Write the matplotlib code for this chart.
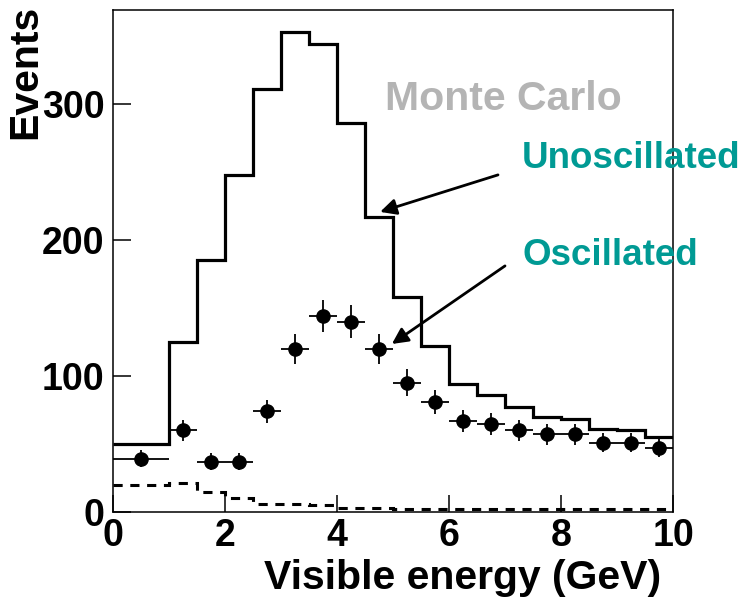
import numpy as np
import matplotlib
matplotlib.use("Agg")
import matplotlib.pyplot as plt

plt.rcParams['font.family'] = ['Liberation Sans', 'DejaVu Sans']
plt.rcParams['font.weight'] = 'bold'

# Bin edges (GeV): first bin is 1 GeV wide, the rest 0.5 GeV
bin_edges = [0, 1, 1.5, 2, 2.5, 3, 3.5, 4, 4.5, 5, 5.5, 6, 6.5, 7, 7.5, 8, 8.5, 9, 9.5, 10]

# Monte Carlo expectation, no oscillation
unoscillated = [50, 125, 185, 248, 311, 353, 344, 286, 217, 158, 122, 94, 86, 77, 70, 68, 61, 60, 55]

# Oscillated points (one per bin)
oscillated = [39, 60, 37, 37, 74, 120, 144, 140, 120, 95, 81, 67, 65, 60, 57, 57, 51, 51, 47]

# Background (dashed)
background = [20, 21, 15, 10, 6, 6, 5, 3, 3, 2.5, 2, 2, 2, 2, 2, 2, 2, 2, 2]

x_ticks = [0, 2, 4, 6, 8, 10]
y_ticks = [0, 100, 200, 300]

W, H = 742, 606
fig = plt.figure(figsize=(W / 100, H / 100), dpi=100)
ax = fig.add_axes([113 / W, 1 - 512 / H, 560 / W, 502 / H])

edges = np.array(bin_edges)
centers = 0.5 * (edges[:-1] + edges[1:])
half_w = 0.5 * np.diff(edges)
osc = np.array(oscillated)

ax.stairs(unoscillated, edges, baseline=None, color='black', lw=2.3)
ax.stairs(background, edges, baseline=None, color='black', lw=2.2,
          linestyle=(0, (3, 2.5)))
ax.errorbar(centers, osc, xerr=half_w, yerr=np.sqrt(osc), fmt='o',
            color='black', ms=9.5, elinewidth=1.3, capsize=0)

ax.set_xlim(0, 10)
ax.set_ylim(0, 369)
ax.set_xticks(x_ticks)
ax.set_yticks(y_ticks)
ax.tick_params(axis='both', direction='in', labelsize=27, width=1.1)
ax.tick_params(axis='x', length=12, pad=4)
ax.tick_params(axis='y', length=13, pad=6)
for s in ax.spines.values():
    s.set_linewidth(1.1)

# axis titles placed in figure pixels
fig.text(463 / W, 1 - 578 / H, 'Visible energy (GeV)', fontsize=29.5,
         ha='center', va='center', color='black')
fig.text(25 / W, 1 - 72 / H, 'Events', fontsize=29.5, rotation=90,
         ha='center', va='center', color='black')

fig.text(385 / W, 1 - 110 / H, 'Monte Carlo', fontsize=29.5,
         color='#b4b4b4', ha='left', va='baseline')
teal = '#009a94'
fig.text(522 / W, 1 - 168 / H, 'Unoscillated', fontsize=26.5,
         color=teal, ha='left', va='baseline')
fig.text(522 / W, 1 - 265 / H, 'Oscillated', fontsize=26.5,
         color=teal, ha='left', va='baseline')

arrow = dict(arrowstyle='-|>', color='black', lw=2, mutation_scale=24,
             shrinkA=0, shrinkB=0)
ax.annotate('', xy=(4.77, 220.6), xytext=(6.875, 247.8), arrowprops=arrow)
ax.annotate('', xy=(4.98, 123.5), xytext=(7.0, 180.9), arrowprops=arrow)

fig.savefig('out.png', dpi=100)
